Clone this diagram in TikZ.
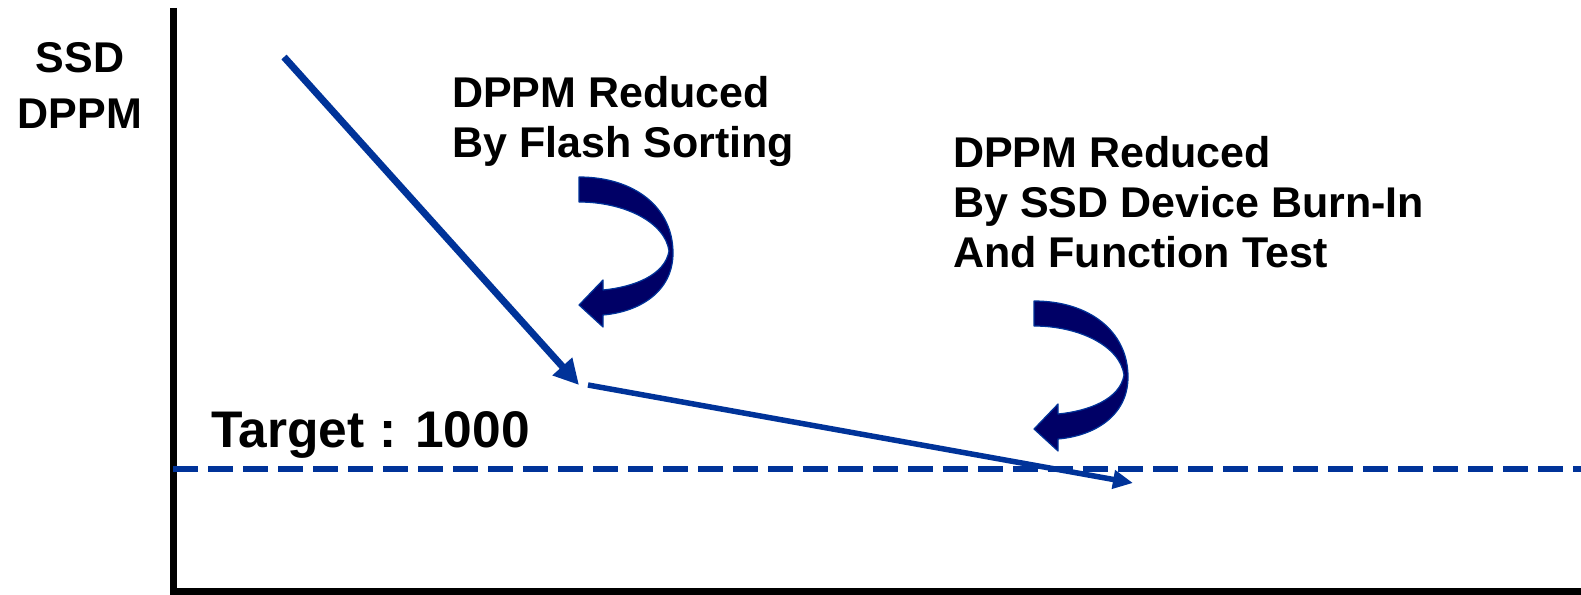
\documentclass[tikz,border=0pt]{standalone}
\usepackage{fontspec}
\setmainfont{Liberation Sans}
\usetikzlibrary{arrows.meta}
\definecolor{lineblue}{HTML}{003399}
\definecolor{navy}{HTML}{000066}
\tikzset{
  axis/.style={line width=7pt, black},
  trend/.style={line width=7pt, lineblue},
  target/.style={line width=6pt, lineblue, dash pattern=on 25pt off 10pt},
  label/.style={font=\bfseries\fontsize{43}{50}\selectfont, inner sep=0pt, anchor=base west},
  curvy/.style={fill=navy, draw=lineblue, line width=1.2pt, line join=round},
}
% U-turn block arrow; its tail's top-left corner sits at the current origin
\newcommand{\uturnarrow}{%
  \path[curvy] (0,0) .. controls (55,0) and (94,30) .. (94,76)
    .. controls (94,115) and (60,135) .. (24,138)
    -- (24,150) -- (0,128) -- (24,103) -- (24,113)
    .. controls (55,110) and (86,98) .. (90,74)
    .. controls (86,45) and (45,25) .. (0,25) -- cycle;}
\begin{document}
\begin{tikzpicture}[x=1pt,y=-1pt]
  \useasboundingbox (0,0) rectangle (1581,594);
  % axes
  \coordinate (ytop) at (173,8);
  \coordinate (origin) at (173,591);
  \coordinate (xend) at (1581,591);
  \draw[axis] (ytop) -- (origin) -- (xend);
  % target level
  \coordinate (tl) at (173,469);
  \coordinate (tr) at (1581,469);
  \draw[target] (tl) -- (tr);
  % DPPM trend
  \coordinate (p0) at (284,57);
  \coordinate (p1) at (579,385);
  \coordinate (p2) at (588,385);
  \coordinate (p3) at (1133,483);
  \draw[trend, -{Triangle[length=25pt,width=25pt]}] (p0) -- (p1);
  \draw[trend, line width=5.5pt, -{Triangle[length=20pt,width=18pt]}] (p2) -- (p3);
  % curved arrows
  \begin{scope}[shift={(579,177)}] \uturnarrow \end{scope}
  \begin{scope}[shift={(1034,301)}] \uturnarrow \end{scope}
  % axis title
  \node[label, anchor=base] (ya) at (80,73) {SSD};
  \node[label, anchor=base] (yb) at (80,128) {DPPM};
  % annotations
  \node[label] (r1a) at (452,107) {DPPM Reduced};
  \node[label] (r1b) at (452,157) {By Flash Sorting};
  \node[label] (r2a) at (953,167) {DPPM Reduced};
  \node[label] (r2b) at (953,217) {By SSD Device Burn-In};
  \node[label] (r2c) at (953,267) {And Function Test};
  \node[label, font=\bfseries\fontsize{51.5}{60}\selectfont] (tg) at (211,447) {Target : 1000};
\end{tikzpicture}
\end{document}
